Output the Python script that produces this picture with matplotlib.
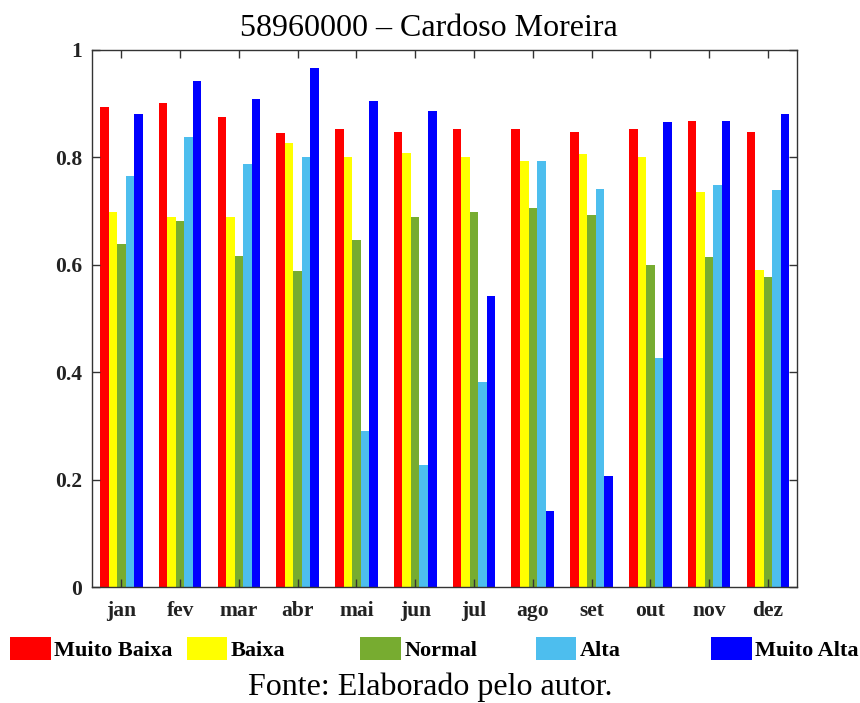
import matplotlib.pyplot as plt
from matplotlib.patches import Rectangle
import numpy as np

plt.rcParams['font.family'] = ['Liberation Serif', 'DejaVu Serif']

#   data
meses = ['jan', 'fev', 'mar', 'abr', 'mai', 'jun', 'jul', 'ago', 'set', 'out', 'nov', 'dez']
classes = ['Muito Baixa', 'Baixa', 'Normal', 'Alta', 'Muito Alta']
cores = ['#FF0000', '#FFFF00', '#77AC30', '#4DBEEE', '#0000FF']

muito_baixa = [0.893, 0.901, 0.875, 0.846, 0.852, 0.847, 0.852, 0.852, 0.847, 0.852, 0.867, 0.847]
baixa = [0.698, 0.688, 0.689, 0.826, 0.800, 0.808, 0.800, 0.794, 0.807, 0.800, 0.735, 0.591]
normal = [0.638, 0.681, 0.616, 0.588, 0.647, 0.688, 0.698, 0.705, 0.693, 0.600, 0.614, 0.578]
alta = [0.765, 0.838, 0.788, 0.801, 0.290, 0.228, 0.381, 0.794, 0.741, 0.426, 0.748, 0.739]
muito_alta = [0.880, 0.943, 0.908, 0.966, 0.904, 0.887, 0.542, 0.142, 0.207, 0.865, 0.867, 0.880]

series = [muito_baixa, baixa, normal, alta, muito_alta]

#   plot
fig = plt.figure(figsize=(8.6, 7.03), dpi=100)
ax = fig.add_axes([0.107, 0.165, 0.820, 0.764])

x = np.arange(1, len(meses) + 1)
w = 0.145
for i, (vals, cor) in enumerate(zip(series, cores)):
    ax.bar(x + (i - 2) * w, vals, width=w, color=cor, edgecolor='none')

ax.set_xlim(0.5, 12.5)
ax.set_ylim(0, 1)
ax.set_xticks(x)
ax.set_xticklabels(meses)
ax.set_yticks([0, 0.2, 0.4, 0.6, 0.8, 1])
ax.set_yticklabels(['0', '0.2', '0.4', '0.6', '0.8', '1'])
ax.tick_params(direction='in', top=True, right=True, length=6, width=1,
               color='#333333', labelsize=15.5, labelcolor='#222222')
ax.tick_params(axis='y', pad=7)
ax.tick_params(axis='x', pad=10)
for lab in ax.get_xticklabels() + ax.get_yticklabels():
    lab.set_fontweight('bold')
for sp in ax.spines.values():
    sp.set_color('#333333')
    sp.set_linewidth(1)

ax.set_title('58960000 – Cardoso Moreira', fontsize=23, pad=10, x=0.477)

# legend drawn along the bottom, evenly spaced
x0s = [0.012, 0.217, 0.419, 0.623, 0.827]
for cls, cor, xl in zip(classes, cores, x0s):
    fig.add_artist(Rectangle((xl, 0.061), 0.047, 0.033, transform=fig.transFigure,
                             facecolor=cor, edgecolor='none'))
    fig.text(xl + 0.051, 0.074, cls, fontsize=16, fontweight='bold', va='center')

fig.text(0.5, 0.022, 'Fonte: Elaborado pelo autor.', fontsize=23, ha='center', va='center')

fig.savefig('out.png', dpi=100)
